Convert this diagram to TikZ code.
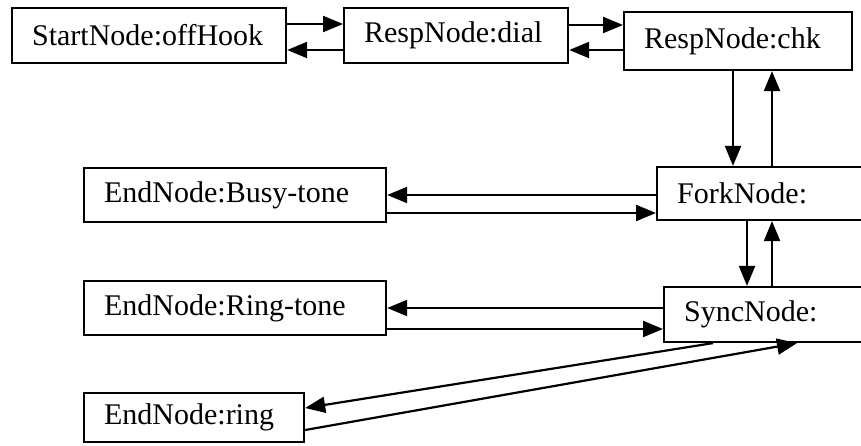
\documentclass[tikz,border=0pt]{standalone}
\usepackage{fontspec}
\setmainfont{Liberation Serif}
\usetikzlibrary{arrows.meta}

\begin{document}
\begin{tikzpicture}[x=0.5pt, y=-0.5pt,
    box/.style={draw=black, line width=1.1pt, anchor=west, inner xsep=10pt, inner ysep=0pt, align=left, font=\fontsize{15}{18}\selectfont},
    arrow/.style={-{Triangle[length=10pt,width=8pt]}, line width=1.1pt, color=black}]

    \clip (0,0) rectangle (861,445);

    \node (start) [box, text width=117pt, minimum height=27.5pt] at (11,35.5) {StartNode:offHook};
    \node (dial) [box, text width=92pt, minimum height=27.5pt] at (343,35.5) {RespNode:dial};
    \node (chk) [box, text width=94pt, minimum height=29pt] at (623,41) {RespNode:chk};
    \node (busy) [box, text width=131pt, minimum height=27pt] at (83,195) {EndNode:Busy-tone};
    \node (fork) [box, text width=110pt, minimum height=26.5pt] at (656,193.5) {ForkNode:};
    \node (ringtone) [box, text width=131pt, minimum height=27pt] at (83,308) {EndNode:Ring-tone};
    \node (sync) [box, text width=110pt, minimum height=27.5pt] at (663,314.5) {SyncNode:};
    \node (ring) [box, text width=90pt, minimum height=24.5pt] at (83,417.5) {EndNode:ring};

    \draw [arrow] ([yshift=5.75pt]start.east) -- ([yshift=5.75pt]start.east -| dial.west);
    \draw [arrow] ([yshift=-7.25pt]dial.west) -- ([yshift=-7.25pt]dial.west -| start.east);
    \draw [arrow] ([yshift=5.25pt]dial.east) -- ([yshift=5.25pt]dial.east -| chk.west);
    \draw [arrow] ([yshift=-4.5pt]chk.west) -- ([yshift=-4.5pt]chk.west -| dial.east);
    \draw [arrow] ([xshift=55pt]chk.south west) -- ([xshift=55pt]chk.south west |- fork.north);
    \draw [arrow] ([xshift=74.5pt]chk.south west |- fork.north) -- ([xshift=74.5pt]chk.south west);
    \draw [arrow] ([yshift=-0.75pt]fork.west) -- ([yshift=-0.75pt]fork.west -| busy.east);
    \draw [arrow] ([yshift=-9pt]busy.east) -- ([yshift=-9pt]busy.east -| fork.west);
    \draw [arrow] ([xshift=45.5pt]fork.south west) -- ([xshift=45.5pt]fork.south west |- sync.north);
    \draw [arrow] ([xshift=58pt]fork.south west |- sync.north) -- ([xshift=58pt]fork.south west);
    \draw [arrow] ([yshift=3.25pt]sync.west) -- ([yshift=3.25pt]sync.west -| ringtone.east);
    \draw [arrow] ([yshift=-10.5pt]ringtone.east) -- ([yshift=-10.5pt]ringtone.east -| sync.west);
    \draw [arrow] ([xshift=25pt]sync.south west) -- ([yshift=4.75pt]ring.east);
    \draw [arrow] ([yshift=-6.25pt]ring.east) -- ([xshift=67pt]sync.south west);
\end{tikzpicture}
\end{document}
